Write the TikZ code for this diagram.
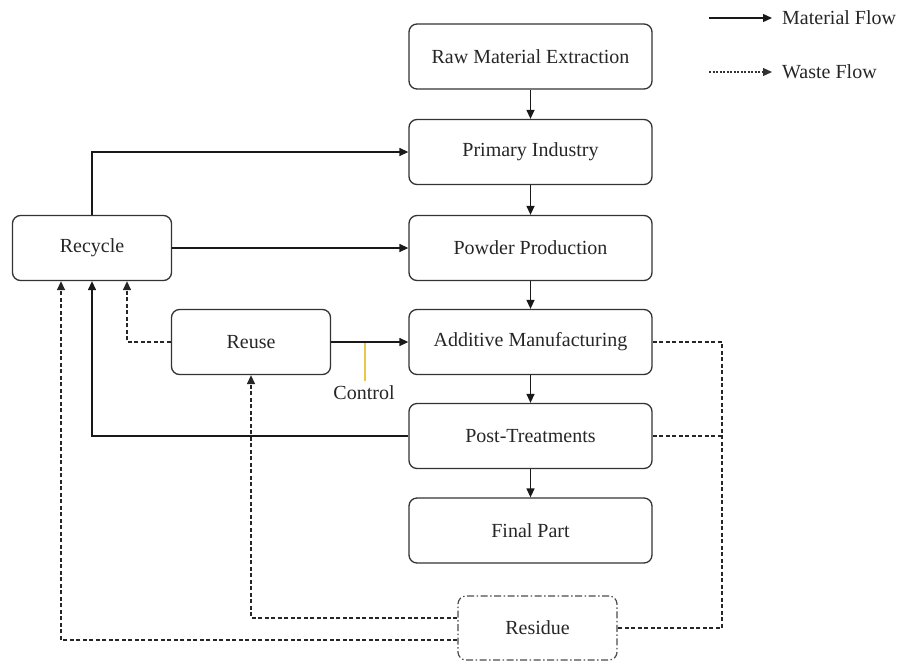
\documentclass[tikz,border=0pt]{standalone}
\usepackage{fontspec}
\setmainfont{Liberation Serif}
\usetikzlibrary{arrows.meta,calc}

\definecolor{ctlyellow}{RGB}{232,200,70}

\tikzset{
  stage/.style={draw=black!80, line width=1.3pt, rounded corners=8pt,
    minimum width=243pt, minimum height=65pt, inner sep=0pt,
    font=\fontsize{20}{24}\selectfont, text=black!85},
  loopbox/.style={stage, minimum width=159pt},
  residuebox/.style={draw=black!70, line width=1.2pt, rounded corners=8pt,
    dash pattern=on 7pt off 2.5pt on 1.5pt off 2.5pt,
    minimum width=159pt, minimum height=64pt, inner sep=0pt,
    font=\fontsize{20}{24}\selectfont, text=black!85},
  tip/.style={-{Triangle[length=9pt,width=8pt]}},
  flow/.style={draw=black!90, line width=1.3pt, tip},
  waste/.style={draw=black!85, line width=1.4pt, dash pattern=on 4pt off 2.5pt},
  wastetip/.style={waste, tip},
  legendtext/.style={anchor=west, inner xsep=10pt, inner ysep=0pt,
    font=\fontsize{20}{24}\selectfont, text=black!85},
}

\begin{document}
\begin{tikzpicture}[x=1pt,y=-1pt]
  \useasboundingbox (0,0) rectangle (899,662);

  % main production chain
  \node[stage] (raw)   at (530.5,56.5) {Raw Material Extraction};
  \node[stage] (prim)  at (530.5,152)  {Primary Industry};
  \node[stage] (powd)  at (530.5,248)  {Powder Production};
  \node[stage] (am)    at (530.5,342)  {Additive Manufacturing};
  \node[stage] (post)  at (530.5,436)  {Post-Treatments};
  \node[stage] (final) at (530.5,530.5){Final Part};

  % loop-back stages
  \node[loopbox] (recycle) at (92,248) {Recycle};
  \node[loopbox] (reuse)   at (251,342) {Reuse};
  \node[residuebox] (residue) at (537.5,628) {Residue};

  % material flow down the chain
  \draw[flow] (raw)  -- (prim);
  \draw[flow] (prim) -- (powd);
  \draw[flow] (powd) -- (am);
  \draw[flow] (am)   -- (post);
  \draw[flow] (post) -- (final);

  % recycled material back into the chain
  \draw[flow] (recycle.north) |- (prim.west);
  \draw[flow] (recycle.east) -- (powd.west);
  \draw[flow] (reuse.east) -- (am.west);
  \draw[flow] (post.west) -| (recycle.south);

  % control point on the reuse line
  \coordinate (ctl) at (365,343);
  \draw[draw=ctlyellow, line width=1.2pt] (ctl) -- ++(0,38);
  \node[font=\fontsize{20}{24}\selectfont, text=black!85] (ctltext) at (364,393) {Control};

  % waste flows
  \coordinate (reuseturn) at ($(recycle.south)+(35,0)$);
  \draw[wastetip] (reuse.west) -| (reuseturn);

  \coordinate (resA) at ($(residue.west)+(0,-10)$);
  \coordinate (resB) at ($(residue.west)+(0,12)$);
  \coordinate (recyL) at ($(recycle.south)+(-31,0)$);
  \draw[wastetip] (resA) -| (reuse.south);
  \draw[wastetip] (resB) -| (recyL);

  \coordinate (wasteR) at (722,342);
  \coordinate (wasteRb) at (722,628);
  \draw[waste] (am.east) -- (wasteR) -- (wasteRb) -- (residue.east);
  \draw[waste] (post.east) -- (post.east -| wasteR);

  % legend
  \node[legendtext] (lmat) at (772,18) {Material Flow};
  \node[legendtext] (lwaste) at (772,72) {Waste Flow};
  \coordinate (lmatstart) at (709,18);
  \coordinate (lwastestart) at (709,72);
  \draw[flow] (lmatstart) -- (lmat.west);
  \draw[draw=black!80, line width=1.2pt, dash pattern=on 2pt off 1.5pt, tip] (lwastestart) -- (lwaste.west);
\end{tikzpicture}
\end{document}
